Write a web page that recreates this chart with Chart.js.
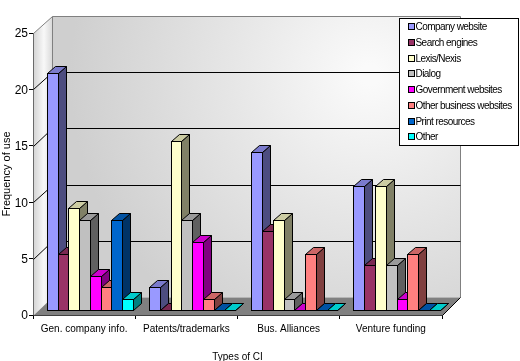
<!DOCTYPE html>
<html><head><meta charset="utf-8">
<style>html,body{margin:0;padding:0;background:#fff}canvas{display:block}</style>
<script src="https://cdn.jsdelivr.net/npm/chart.js@4"></script>
</head><body><canvas id="c" width="520" height="361"></canvas>
<script>
const categories = ['Gen. company info.', 'Patents/trademarks', 'Bus. Alliances', 'Venture funding'];
const companyWebsite = [21, 2, 14, 11];
const searchEngines = [5, 0, 7, 4];
const lexisNexis = [9, 15, 8, 11];
const dialog = [8, 8, 1, 4];
const governmentWebsites = [3, 6, 0, 1];
const otherBusinessWebsites = [2, 1, 5, 5];
const printResources = [8, 0, 0, 0];
const other = [1, 0, 0, 0];
const seriesNames = ['Company website', 'Search engines', 'Lexis/Nexis', 'Dialog', 'Government websites', 'Other business websites', 'Print resources', 'Other'];
const seriesValues = [companyWebsite, searchEngines, lexisNexis, dialog, governmentWebsites, otherBusinessWebsites, printResources, other];
const frontColors = ['#9999FF', '#993366', '#FFFFCC', '#C0C0C0', '#FF00FF', '#FF8080', '#0066CC', '#00FFFF'];
const topColors = ['#7A7ACC', '#7A2952', '#CCCCA3', '#9A9A9A', '#CC00CC', '#CC6666', '#0052A3', '#00CCCC'];
const sideColors = ['#4D4D80', '#4D1A33', '#808066', '#606060', '#800080', '#804040', '#003366', '#008080'];

const WALL = {dx: 19, dy: -18};
const BAR = {ox: 5.7, oy: -5, dx: 8, dy: -7};

function poly(ctx, pts, fill, stroke) {
  ctx.beginPath();
  pts.forEach((p, i) => i ? ctx.lineTo(p[0], p[1]) : ctx.moveTo(p[0], p[1]));
  ctx.closePath();
  if (fill) { ctx.fillStyle = fill; ctx.fill(); }
  if (stroke) { ctx.strokeStyle = stroke; ctx.lineWidth = 1; ctx.stroke(); }
}
function hline(ctx, x1, y1, x2, y2, color) {
  ctx.beginPath(); ctx.moveTo(x1, y1); ctx.lineTo(x2, y2);
  ctx.strokeStyle = color; ctx.lineWidth = 1; ctx.stroke();
}

const walls = {
  id: 'walls',
  beforeDatasetsDraw(chart) {
    const {ctx, chartArea: a, scales: {y}} = chart;
    const L = Math.round(a.left) + .5, R = Math.round(a.right) + .5, B = Math.round(a.bottom) + .5, T = Math.round(a.top) + .5;
    const bl = L + WALL.dx, br = R + WALL.dx - 1, bt = T + WALL.dy + 1, bb = B + WALL.dy;
    ctx.save();
    const g = ctx.createRadialGradient(370, 75, 10, 370, 75, 300);
    g.addColorStop(0, '#FAFAFA'); g.addColorStop(.45, '#E6E6E6'); g.addColorStop(1, '#CFCFCF');
    ctx.fillStyle = g; ctx.fillRect(bl, bt, br - bl, bb - bt);
    const lg = ctx.createLinearGradient(L, 0, bl, 0);
    lg.addColorStop(0, '#D4D4D4'); lg.addColorStop(.55, '#F8F8F8'); lg.addColorStop(1, '#D8D8D8');
    poly(ctx, [[L, B], [bl, bb], [bl, bt], [L, T]], lg);
    poly(ctx, [[L, B], [R, B], [br, bb], [bl, bb]], '#808080');
    hline(ctx, L, T, bl, bt, '#808080');
    hline(ctx, bl, bt, br, bt, '#808080');
    hline(ctx, bl, bt, bl, bb, '#808080');
    hline(ctx, br, bt, br, bb, '#808080');
    hline(ctx, R, B, br, bb, '#000');
    y.ticks.forEach(t => {
      if (t.value === 0 || t.value === 25) return;
      const v = y.getPixelForValue(t.value);
      const p = Math.round(v) + .5;
      const q = Math.round(v - 17.6) + .5;
      hline(ctx, L, p, bl, q, '#000');
      hline(ctx, bl, q, br, q, '#000');
    });
    ctx.restore();
  }
};

const bars3d = {
  id: 'bars3d',
  beforeDatasetDraw() { return false; },
  afterDatasetsDraw(chart) {
    const ctx = chart.ctx;
    ctx.save();
    ctx.translate(BAR.ox, BAR.oy);
    categories.forEach((_, c) => {
      seriesValues.forEach((_, d) => {
        const el = chart.getDatasetMeta(d).data[c];
        const saved = {x: el.x, y: el.y, base: el.base, width: el.width};
        const l = Math.round(el.x - el.width / 2 + BAR.ox) - BAR.ox;
        const r = Math.round(el.x + el.width / 2 + BAR.ox) - BAR.ox;
        const t = Math.round(el.y), b = Math.round(el.base);
        const px = r + .5, py = t + .5, bb = b + .5, lx = l + .5;
        poly(ctx, [[px, py], [px + BAR.dx, py + BAR.dy], [px + BAR.dx, bb + BAR.dy], [px, bb]], sideColors[d], '#000');
        poly(ctx, [[lx, py], [lx + BAR.dx, py + BAR.dy], [px + BAR.dx, py + BAR.dy], [px, py]], topColors[d], '#000');
        el.x = (l + r + 1) / 2; el.width = r + 1 - l; el.y = t; el.base = b + 1;
        el.draw(ctx, chart.chartArea);
        Object.assign(el, saved);
      });
    });
    ctx.restore();
  }
};

const legendBox = {
  id: 'legendBox',
  afterDraw(chart) {
    const ctx = chart.ctx;
    ctx.save();
    ctx.fillStyle = '#fff'; ctx.fillRect(399.5, 18.5, 120, 127);
    ctx.strokeStyle = '#000'; ctx.lineWidth = 1; ctx.strokeRect(399.5, 18.5, 119, 127);
    ctx.font = '10px "Liberation Sans"'; ctx.textBaseline = 'middle'; ctx.textAlign = 'left';
    ctx.letterSpacing = '-0.55px';
    seriesNames.forEach((n, i) => {
      const yc = Math.round(27 + i * 15.75);
      ctx.fillStyle = frontColors[i]; ctx.fillRect(408.5, yc - 3.5, 6, 6);
      ctx.strokeRect(408.5, yc - 3.5, 6, 6);
      ctx.fillStyle = '#000'; ctx.fillText(n, 415.5, yc);
    });
    ctx.restore();
  }
};

new Chart(document.getElementById('c'), {
  type: 'bar',
  data: {
    labels: categories,
    datasets: seriesNames.map((n, i) => ({
      label: n, data: seriesValues[i], backgroundColor: frontColors[i],
      borderColor: '#000', borderWidth: 1, borderSkipped: false
    }))
  },
  plugins: [walls, bars3d, legendBox],
  options: {
    responsive: false, animation: false, events: [],
    devicePixelRatio: 1,
    layout: {padding: {left: 0, right: 78, top: 33, bottom: 0}},
    categoryPercentage: .843, barPercentage: 1,
    plugins: {legend: {display: false}, tooltip: {enabled: false}},
    scales: {
      x: {
        afterFit(s) { s.height = 46; },
        grid: {offset: true, drawOnChartArea: false, color: '#000', tickColor: '#000', tickLength: 4},
        border: {color: '#000'},
        ticks: {color: '#000', font: {family: 'Liberation Sans', size: 10}, padding: 4, maxRotation: 0, autoSkip: false},
        title: {display: true, text: 'Types of CI', color: '#000', font: {family: 'Liberation Sans', size: 10}, padding: {top: 11, bottom: -2}}
      },
      y: {
        min: 0, max: 25,
        afterFit(s) { s.width = 33; },
        grid: {drawOnChartArea: false, color: '#000', tickColor: '#000', tickLength: 4},
        border: {color: '#000'},
        ticks: {stepSize: 5, color: '#000', font: {family: 'Liberation Sans', size: 12, lineHeight: '2px'}, padding: 1, callback: v => ['', String(v)]},
        title: {display: true, text: 'Frequency of use', color: '#000', font: {family: 'Liberation Sans', size: 11}, padding: {top: 0, bottom: 0}}
      }
    }
  }
});
</script></body></html>
